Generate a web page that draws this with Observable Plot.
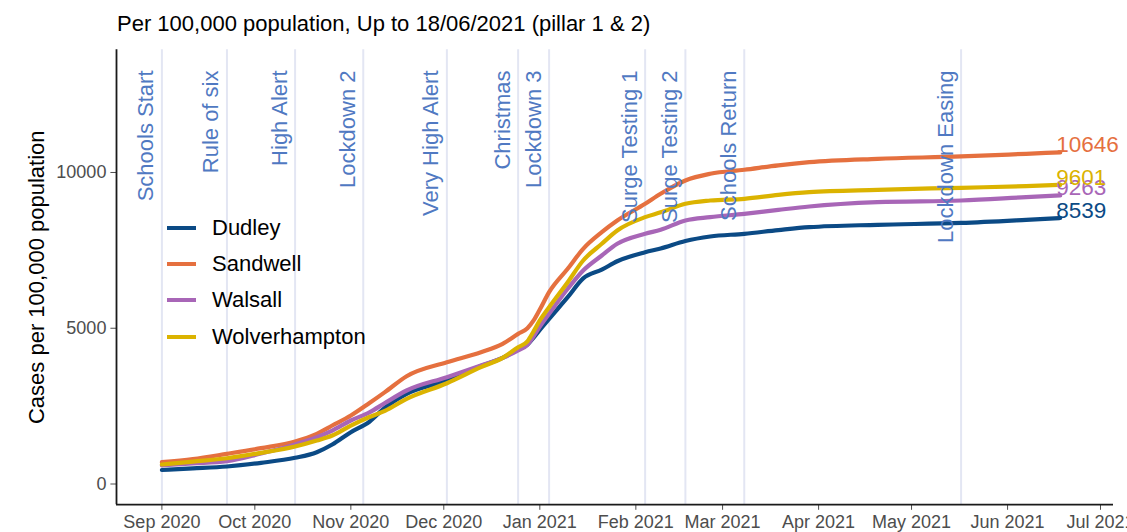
<!DOCTYPE html>
<html><head><meta charset="utf-8">
<script src="https://cdn.jsdelivr.net/npm/d3@7"></script>
<script src="https://cdn.jsdelivr.net/npm/@observablehq/plot@0.6"></script>
<style>
html,body{margin:0;padding:0;background:#fff;overflow:hidden;}
#wrap{position:relative;width:1127px;height:532px;font-family:"Liberation Sans",Arial,sans-serif;}
#title{height:40px;box-sizing:border-box;padding:11px 0 0 117px;font-size:22px;line-height:25px;color:#000;white-space:nowrap;}
#legend{position:absolute;left:167px;top:210px;font-size:22px;color:#000;}
.row{height:36.2px;display:flex;align-items:center;}
.key{width:29px;height:4px;margin-right:16px;}
</style></head>
<body><div id="wrap"><div id="title"></div><div id="chart"></div><div id="legend"></div></div>
<script>
const titleText = "Per 100,000 population, Up to 18/06/2021 (pillar 1 & 2)";
const yTitle = "Cases per 100,000 population";
const seriesNames = ["Dudley", "Sandwell", "Walsall", "Wolverhampton"];
const seriesColors = ["#0b4a85", "#e5703f", "#a866b7", "#dbb300"];
const dates = ["2020-09-01","2020-09-11","2020-09-22","2020-10-03","2020-10-14","2020-10-21","2020-10-26","2020-11-01","2020-11-07","2020-11-12","2020-11-19","2020-12-02","2020-12-13","2020-12-20","2020-12-25","2020-12-28","2020-12-30","2021-01-01","2021-01-04","2021-01-10","2021-01-15","2021-01-21","2021-01-26","2021-02-04","2021-02-09","2021-02-17","2021-02-25","2021-03-08","2021-03-19","2021-03-29","2021-04-20","2021-05-17","2021-06-07","2021-06-18"];
const dudley =        [450,500,562,680,841,1021,1268,1663,2000,2450,2896,3323,3790,4050,4320,4470,4700,4950,5303,5997,6600,6880,7150,7440,7560,7800,7945,8032,8150,8244,8321,8380,8480,8539];
const sandwell =      [700,800,969,1150,1364,1611,1878,2199,2600,2950,3461,3910,4232,4500,4820,5000,5250,5600,6158,6908,7550,8084,8459,8995,9316,9743,9958,10087,10230,10331,10439,10514,10600,10646];
const walsall =       [600,660,732,980,1268,1500,1717,2039,2300,2600,3002,3429,3804,4050,4286,4470,4740,5050,5464,6266,6854,7335,7711,8032,8160,8459,8566,8673,8800,8909,9047,9101,9208,9263];
const wolverhampton = [626,720,828,1000,1204,1396,1557,1878,2150,2350,2735,3236,3750,4050,4392,4580,4900,5250,5676,6478,7175,7711,8138,8566,8720,8995,9101,9155,9280,9368,9444,9509,9561,9601];
const eventNames = ["Schools Start","Rule of six","High Alert","Lockdown 2","Very High Alert","Christmas","Lockdown 3","Surge Testing 1","Surge Testing 2","Schools Return","Lockdown Easing"];
const eventDates = ["2020-09-01","2020-09-22","2020-10-14","2020-11-05","2020-12-02","2020-12-25","2021-01-04","2021-02-04","2021-02-17","2021-03-08","2021-05-17"];
const xTicks = ["2020-09-01","2020-10-01","2020-11-01","2020-12-01","2021-01-01","2021-02-01","2021-03-01","2021-04-01","2021-05-01","2021-06-01","2021-07-01"];
const yTicks = [0, 5000, 10000];
const xDomain = [new Date("2020-08-17T08:15:00Z"), new Date("2021-07-05T04:45:00Z")];
const yDomain = [-664, 13938];

const values = [dudley, sandwell, walsall, wolverhampton];
const rows = seriesNames.flatMap((name, k) => dates.map((d, i) => ({date: new Date(d), value: values[k][i], series: name})));
const last = seriesNames.map((name, k) => ({date: new Date(dates[dates.length - 1]), value: values[k][values[k].length - 1], series: name}));
const events = eventNames.map((n, i) => ({name: n, date: new Date(eventDates[i])}));

document.getElementById("title").textContent = titleText;

const chart = Plot.plot({
  width: 1127, height: 492,
  marginTop: 9.3, marginBottom: 27.8, marginLeft: 116, marginRight: 14,
  style: {fontFamily: '"Liberation Sans", Arial, sans-serif', fontSize: "18px", color: "#4d4d4d", background: "#fff"},
  x: {type: "utc", domain: xDomain, ticks: xTicks.map(d => new Date(d)), tickFormat: d3.utcFormat("%b %Y"), tickSize: 5.6, tickPadding: 4.5, label: null},
  y: {domain: yDomain, ticks: yTicks, tickFormat: d => String(d), tickSize: 5.6, tickPadding: 4.5, label: null},
  color: {domain: seriesNames, range: seriesColors},
  marks: [
    Plot.ruleX(events, {x: "date", stroke: "#e3e6f3", strokeWidth: 2}),
    Plot.line(rows, {x: "date", y: "value", z: "series", stroke: "series", strokeWidth: 4.2, curve: "monotone-x"}),
    Plot.text(events, {x: "date", frameAnchor: "top", text: "name", rotate: -90, textAnchor: "end", lineAnchor: "middle", dx: -15.5, dy: 20.7, fill: "#5079c2", fontSize: 22}),
    Plot.text(last, {x: "date", y: "value", text: d => String(d.value), fill: "series", textAnchor: "start", lineAnchor: "middle", dx: -4, dy: -7.5, fontSize: 22.5}),
    Plot.ruleX([xDomain[0]], {stroke: "#1a1a1a", strokeWidth: 1.8}),
    Plot.ruleY([yDomain[0]], {stroke: "#1a1a1a", strokeWidth: 1.8}),
    Plot.text([yTitle], {frameAnchor: "left", text: d => d, rotate: -90, textAnchor: "middle", lineAnchor: "middle", dx: -80, fill: "#000", fontSize: 22})
  ]
});
document.getElementById("chart").appendChild(chart);

const legend = document.getElementById("legend");
seriesNames.forEach((name, k) => {
  const row = document.createElement("div");
  row.className = "row";
  const key = document.createElement("div");
  key.className = "key";
  key.style.background = seriesColors[k];
  const label = document.createElement("span");
  label.textContent = name;
  row.appendChild(key); row.appendChild(label);
  legend.appendChild(row);
});
</script></body></html>
